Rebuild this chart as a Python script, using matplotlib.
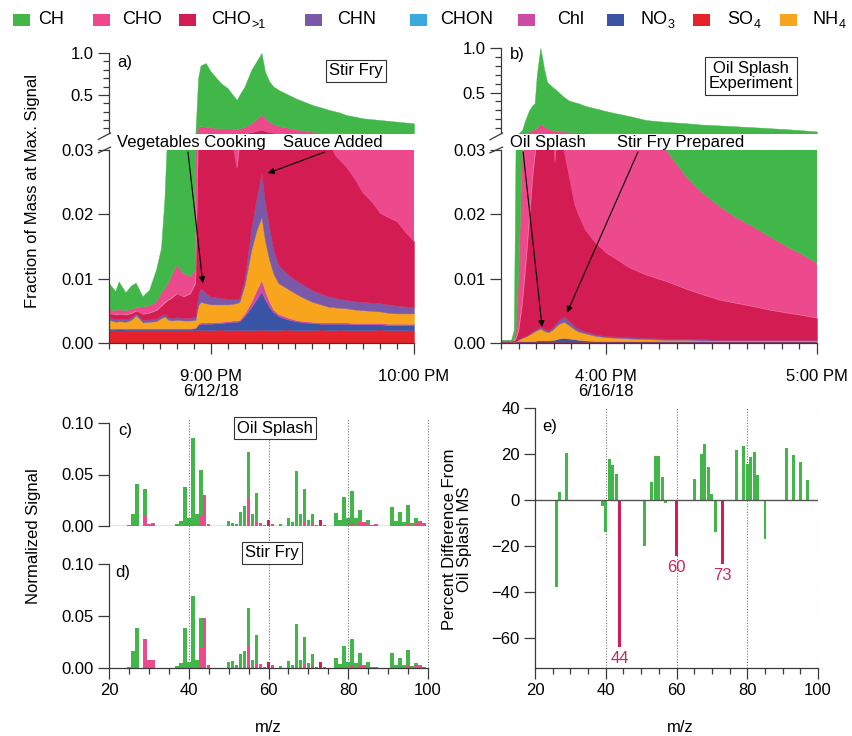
import numpy as np
import matplotlib
matplotlib.use("Agg")
import matplotlib.pyplot as plt
from matplotlib.patches import Rectangle
from matplotlib.ticker import MultipleLocator, FixedLocator, FormatStrFormatter

plt.rcParams['font.family'] = ['Liberation Sans', 'DejaVu Sans']
plt.rcParams['mathtext.fontset'] = 'custom'
plt.rcParams['mathtext.rm'] = 'Liberation Sans'
plt.rcParams['mathtext.default'] = 'regular'
plt.rcParams['font.size'] = 12

# colours of the chemical families
C_CH = '#41b649'
C_CHO = '#ec4a8c'
C_CHO1 = '#d21c52'
C_CHN = '#7a5aa8'
C_CHON = '#3aa9e0'
C_CHL = '#cf4aa6'
C_NO3 = '#3a55a6'
C_SO4 = '#e6232b'
C_NH4 = '#f8a51d'

# legend entries: (main text, subscript)
legend_labels = [('CH', ''), ('CHO', ''), ('CHO', '>1'), ('CHN', ''), ('CHON', ''), ('Chl', ''),
                 ('NO', '3'), ('SO', '4'), ('NH', '4')]
legend_colors = [C_CH, C_CHO, C_CHO1, C_CHN, C_CHON, C_CHL, C_NO3, C_SO4, C_NH4]

# ---- panel a: stir fry, minutes after 8:30 PM (6/12/18)
# upper edge of each stacked layer (fraction of mass at max signal)
a_t = [0, 2, 3, 5, 6.5, 8, 10, 12, 14, 15.5, 16.5, 17.5, 18.5, 20, 22, 24, 25.5, 26.3, 27, 28.5,
       30, 33, 35, 36.5, 37.7, 38.5, 40, 42, 43.5, 45, 46, 47.3, 48.5, 50, 52.5, 55, 57.5, 60, 62.5, 65,
       66, 67, 68, 70, 72.5, 75, 77.5, 80, 82.5, 85, 87.5, 90]
a_so4 = [.0020, .0020, .0019, .0020, .0020, .0020, .0020, .0020, .0020, .0020, .0020, .0020, .0020, .0020,
         .0020, .0020, .0020, .0020, .0021, .0020, .0020, .0021, .0020, .0020, .0021, .0020, .0020, .0020,
         .0020, .0021, .0020, .0020, .0020, .0020, .0021, .0020, .0020, .0020, .0021, .0020, .0020, .0020,
         .0021, .0020, .0020, .0020, .0020, .0021, .0020, .0020, .0020, .0020]
a_no3 = [.0022, .0022, .0022, .0022, .0022, .0022, .0022, .0022, .0022, .0022, .0022, .0022, .0022, .0022,
         .0022, .0022, .0023, .0028, .0030, .0030, .0030, .0031, .0032, .0033, .0033, .0034, .0042, .0056,
         .0068, .0080, .0068, .0056, .0048, .0042, .0037, .0034, .0032, .0031, .0030, .0030, .0030, .0030,
         .0030, .0030, .0029, .0029, .0029, .0029, .0028, .0028, .0028, .0028]
a_chl = [.0023, .0023, .0023, .0023, .0023, .0023, .0023, .0023, .0023, .0023, .0023, .0023, .0023, .0023,
         .0023, .0023, .0024, .0030, .0032, .0032, .0032, .0033, .0034, .0035, .0035, .0036, .0046, .0064,
         .0082, .0098, .0082, .0064, .0052, .0045, .0040, .0036, .0034, .0033, .0032, .0032, .0032, .0032,
         .0032, .0032, .0031, .0031, .0031, .0031, .0030, .0030, .0030, .0030]
a_nh4 = [.0036, .0033, .0034, .0033, .0036, .0043, .0032, .0033, .0034, .0039, .0041, .0036, .0035, .0036,
         .0035, .0035, .0036, .0058, .0064, .0062, .0060, .0060, .0060, .0061, .0062, .0064, .0090, .0145,
         .0175, .0196, .0160, .0129, .0108, .0093, .0085, .0077, .0070, .0064, .0060, .0056, .0056, .0055,
         .0055, .0054, .0052, .0051, .0050, .0049, .0047, .0046, .0046, .0046]
a_chn = [.0040, .0037, .0038, .0037, .0040, .0046, .0036, .0037, .0038, .0043, .0045, .0040, .0039, .0040,
         .0039, .0039, .0041, .0075, .0085, .0078, .0072, .0070, .0069, .0068, .0068, .0070, .0100, .0180,
         .0225, .0264, .0220, .0180, .0145, .0121, .0108, .0098, .0090, .0082, .0077, .0072, .0071, .0070,
         .0069, .0067, .0065, .0064, .0063, .0062, .0060, .0058, .0057, .0056]
a_cho1 = [.0046, .0044, .0045, .0044, .0046, .0050, .0045, .0047, .0051, .0058, .0063, .0067, .0070, .0077,
          .0072, .0077, .0093, .032, .034, .035, .035, .034, .033, .031, .0272, .031, .040, .055,
          .070, .085, .070, .055, .048, .042, .038, .036, .034, .033, .032, .031, .030, .029,
          .0285, .0274, .0255, .0233, .0220, .0202, .0195, .0189, .0172, .0158]
a_cho = [.0052, .0050, .0052, .0050, .0052, .0055, .0056, .0058, .0064, .0078, .0085, .0093, .0105, .0121,
         .0108, .0103, .0113, .12, .13, .12, .11, .10, .10, .095, .09, .10, .12, .16,
         .21, .27, .22, .18, .15, .13, .11, .09, .075, .06, .05, .045, .044, .043,
         .042, .040, .038, .036, .035, .034, .033, .032, .031, .031]
a_tot = [.0093, .0080, .0095, .0078, .0088, .0093, .0072, .0082, .0113, .0147, .0222, .035, .036, .037,
         .037, .037, .038, .70, .85, .88, .78, .64, .58, .50, .44, .50, .60, .80,
         .90, 1.00, .78, .66, .60, .56, .51, .46, .42, .38, .35, .32, .31, .30,
         .29, .26, .24, .22, .21, .20, .19, .18, .17, .16]

# ---- panel b: oil splash, minutes after 3:30 PM (6/16/18)
b_t = [0, 3, 3.8, 4.3, 5, 6, 7, 8, 9, 9.6, 10.2, 11.2, 11.7, 12.2, 13.1, 13.6, 15, 15.3, 15.7, 16.5,
       17.9, 19.3, 21, 22, 24, 27, 30, 33.5, 36.6, 41.4, 47, 52.7, 57, 62.3, 67, 71.8, 76, 81.4, 86, 90]
b_so4 = [.0002] * 40
b_no3 = [.0002, .0002, .0002, .00025, .0003, .0003, .0003, .0003, .0003, .0003, .0004, .0004, .0004, .0004,
         .0004, .0004, .0005, .0005, .0006, .0007, .0008, .0007, .0006, .0005, .0004, .0003, .0003, .0003,
         .0003, .0003, .0003, .0003, .0003, .0003, .0003, .0003, .0003, .0003, .0003, .0003]
b_nh4 = [.0002, .0002, .00025, .0003, .0005, .0008, .0010, .0013, .0016, .0018, .0020, .0022, .0021, .0019,
         .0017, .0017, .0022, .0024, .0026, .0030, .0033, .0028, .0021, .0018, .0015, .0011, .0009, .0008,
         .0007, .0006, .0005, .0005, .0004, .0004, .0004, .0004, .0004, .0004, .0004, .0004]
b_chn = [.0002, .0002, .0003, .0004, .0006, .0009, .0011, .0014, .0018, .0020, .0022, .0025, .0024, .0022,
         .0020, .0019, .0026, .0028, .0031, .0036, .0041, .0035, .0026, .0022, .0018, .0013, .0011, .0010,
         .0009, .0008, .0007, .0006, .0006, .0005, .0005, .0005, .0005, .0005, .0005, .0005]
b_cho1 = [.0003, .0003, .0004, .0008, .0020, .0060, .0120, .0190, .0260, .0290, .0320, .0340, .0340, .0340,
          .0340, .0340, .0320, .0280, .0310, .0320, .0300, .0262, .0215, .0200, .0176, .0155, .0140, .0128,
          .0117, .0106, .0096, .0084, .0076, .0067, .0062, .0057, .0052, .0047, .0043, .0039]
b_cho = [.0003, .0003, .0006, .0020, .0100, .0280, .0450, .0600, .0800, .0900, .1000, .1550, .1400, .1200,
         .1000, .0900, .0750, .0720, .0700, .0660, .0620, .0580, .0550, .0530, .0500, .0470, .0440, .0410,
         .0380, .0340, .0300, .0259, .0235, .0212, .0195, .0181, .0167, .0150, .0137, .0124]
b_tot = [.0004, .0004, .0020, .0310, .0400, .0800, .2000, .3000, .3600, .3800, .7000, 1.000, .9000, .7800,
         .6200, .6000, .5500, .5400, .5300, .5000, .4500, .4100, .3900, .3800, .3500, .3200, .2900, .2600,
         .2350, .1900, .1700, .1550, .1400, .1300, .1200, .1100, .1000, .0880, .0750, .0620]

# ---- panels c, d: normalized mass spectra
mz = [25, 26, 27, 29, 30, 31, 37, 38, 39, 40, 41, 42, 43, 44, 45, 50, 51, 52, 53, 54, 55, 56, 57, 58, 59,
      61, 63, 65, 66, 67, 68, 69, 70, 71, 72, 74, 77, 78, 79, 80, 81, 82, 83, 84, 85, 86, 87,
      91, 92, 93, 94, 95, 96, 97, 98, 99]
c_ch = [.001, .012, .041, .025, 0, 0, .002, .005, .038, .008, .085, .012, .044, 0, 0,
        .005, .003, .002, .014, .019, .045, .012, .028, 0, 0, 0, .002,
        .008, .004, .053, .012, .032, .006, .009, 0, 0,
        .013, .006, .028, .008, .031, .008, .012, 0, .003, 0, 0,
        .018, .005, .014, .004, .018, .003, .005, 0, 0]
c_cho = [0, 0, 0, .011, .002, .003, 0, 0, 0, 0, 0, 0, .010, .030, .002,
         0, 0, 0, 0, 0, .027, 0, .004, .003, .001, .002, 0,
         0, 0, 0, 0, .004, 0, .003, .001, .001,
         0, 0, 0, 0, .003, 0, .004, .004, .003, .001, .002,
         0, 0, 0, 0, .002, 0, .003, .005, .003]
d_ch = [.001, .016, .038, 0, 0, 0, .002, .005, .038, .006, .069, .008, .029, 0, 0,
        .006, .007, .003, .013, .016, .036, .008, .028, 0, 0, 0, .002,
        .007, .003, .042, .008, .026, .005, .010, 0, 0,
        .010, .004, .021, .006, .025, .005, .011, 0, .006, 0, 0,
        .014, .003, .010, .003, .015, .002, .003, 0, 0]
d_cho = [0, 0, 0, .028, .008, .008, 0, 0, 0, 0, 0, 0, .019, .048, .003,
         0, 0, 0, 0, 0, .022, 0, .004, .004, .001, .003, 0,
         0, 0, 0, 0, .004, 0, .003, .001, .001,
         0, 0, 0, 0, .003, 0, .003, .003, 0, .001, .001,
         0, 0, 0, 0, .002, 0, .002, .003, .001]
cho1_mz = [60, 73]
c_cho1 = [.006, .006]
d_cho1 = [.006, .006]

# ---- panel e: percent difference stir fry vs oil splash
e_mz = [26, 27, 29, 39, 40, 41, 42, 43, 51, 53, 54, 55, 56, 57, 65, 67, 68, 69, 70, 71,
        77, 79, 80, 81, 82, 83, 85, 91, 93, 95, 97]
e_diff = [-38, 3.5, 20.5, -2.5, -14, 17.8, 15.3, 11.4, -20, 7.7, 19, 19, 10.2, -1.2, 9.2, 20, 24.4, 14.2, 2.5, -14,
          21.9, 23.4, 15.6, 18.7, 21, 11, -16.8, 22.6, 19.7, 16.4, 8.8]
e_ox_mz = [44, 60, 73]
e_ox_diff = [-64, -24.5, -28]

W, H = 852, 736
fig = plt.figure(figsize=(W / 100, H / 100), dpi=100)


def px_axes(l, t, r, b):
    return fig.add_axes([l / W, 1 - b / H, (r - l) / W, (b - t) / H])


def ftext(x, y, s, **kw):
    return fig.text(x / W, 1 - y / H, s, **kw)


SPINE = '#3a3a3a'


def style(ax, bottom=True):
    for side in ['top', 'right']:
        ax.spines[side].set_visible(False)
    ax.spines['bottom'].set_visible(bottom)
    for side in ['left', 'bottom']:
        ax.spines[side].set_color(SPINE)
        ax.spines[side].set_linewidth(0.9)
    ax.tick_params(which='major', direction='out', length=8, width=0.9, color=SPINE, labelsize=12, pad=3)
    ax.tick_params(which='minor', direction='out', length=4.5, width=0.9, color=SPINE)
    if not bottom:
        ax.tick_params(axis='x', which='both', bottom=False, labelbottom=False)


def stack(ax, t, layers):
    prev = np.zeros(len(t))
    for edge, col in layers:
        edge = np.array(edge)
        ax.fill_between(t, prev, edge, facecolor=col, edgecolor=col, linewidth=0.3)
        prev = edge


a_layers = [(a_so4, C_SO4), (a_no3, C_NO3), (a_chl, C_CHL), (a_nh4, C_NH4), (a_chn, C_CHN),
            (a_cho1, C_CHO1), (a_cho, C_CHO), (a_tot, C_CH)]
b_layers = [(b_so4, C_SO4), (b_no3, C_NO3), (b_nh4, C_NH4), (b_chn, C_CHN),
            (b_cho1, C_CHO1), (b_cho, C_CHO), (b_tot, C_CH)]

panels = [
    (a_t, a_layers, (109, 53, 414, 133), (109, 150, 414, 343), ['9:00 PM\n6/12/18', '10:00 PM']),
    (b_t, b_layers, (501, 48, 817, 133), (501, 150, 817, 343), ['4:00 PM\n6/16/18', '5:00 PM']),
]
lower_axes = []
for t, layers, up_box, lo_box, xlabels in panels:
    axu = px_axes(*up_box)
    axl = px_axes(*lo_box)
    for ax in (axu, axl):
        stack(ax, t, layers)
        ax.set_xlim(0, 90)
    axu.set_ylim(0.045, 1.0)
    axl.set_ylim(0, 0.03)
    style(axu, bottom=False)
    style(axl)
    axu.yaxis.set_major_locator(FixedLocator([0.5, 1.0]))
    axu.yaxis.set_minor_locator(FixedLocator([0.1, 0.2, 0.3, 0.4, 0.6, 0.7, 0.8, 0.9]))
    axu.yaxis.set_major_formatter(FormatStrFormatter('%.1f'))
    axl.yaxis.set_major_locator(FixedLocator([0, 0.01, 0.02, 0.03]))
    axl.yaxis.set_major_formatter(FormatStrFormatter('%.2f'))
    axl.xaxis.set_major_locator(FixedLocator([30, 90]))
    axl.xaxis.set_minor_locator(MultipleLocator(5))
    axl.set_xticklabels(xlabels, linespacing=1.0)
    axl.tick_params(axis='x', which='major', pad=11)
    # axis break marks
    axu.plot([-0.035, 0.005], [-0.08, 0.0], transform=axu.transAxes, color=SPINE, lw=0.9, clip_on=False)
    axl.plot([-0.035, 0.005], [0.985, 1.015], transform=axl.transAxes, color=SPINE, lw=0.9, clip_on=False)
    lower_axes.append(axl)

ax_a, ax_b = lower_axes
arrow = dict(arrowstyle='-|>', color='black', lw=0.8, mutation_scale=9, shrinkA=0, shrinkB=0)
ax_a.text(24.3, 0.0311, 'Vegetables Cooking', ha='center', va='center', fontsize=12)
ax_a.text(66, 0.0311, 'Sauce Added', ha='center', va='center', fontsize=12)
ax_a.annotate('', xy=(27.7, 0.0093), xytext=(23.3, 0.0297), arrowprops=arrow, annotation_clip=False)
ax_a.annotate('', xy=(46.9, 0.0264), xytext=(63.7, 0.0297), arrowprops=arrow, annotation_clip=False)
ax_b.text(13.4, 0.0311, 'Oil Splash', ha='center', va='center', fontsize=12)
ax_b.text(51.3, 0.0311, 'Stir Fry Prepared', ha='center', va='center', fontsize=12)
ax_b.annotate('', xy=(11.7, 0.0025), xytext=(6.3, 0.0297), arrowprops=arrow, annotation_clip=False)
ax_b.annotate('', xy=(18.8, 0.0047), xytext=(39.0, 0.0297), arrowprops=arrow, annotation_clip=False)

# ---- spectra c and d
ax_c = px_axes(109, 423, 428, 526)
ax_d = px_axes(109, 564, 428, 668)
for ax, ch, cho, cho1 in [(ax_c, c_ch, c_cho, c_cho1), (ax_d, d_ch, d_cho, d_cho1)]:
    ax.bar(mz, cho, width=0.9, color=C_CHO, linewidth=0)
    ax.bar(mz, ch, bottom=cho, width=0.9, color=C_CH, linewidth=0)
    ax.bar(cho1_mz, cho1, width=0.9, color=C_CHO1, linewidth=0)
    ax.set_xlim(20, 100)
    ax.set_ylim(0, 0.1)
    ax.yaxis.set_major_locator(FixedLocator([0, 0.05, 0.10]))
    ax.yaxis.set_major_formatter(FormatStrFormatter('%.2f'))
style(ax_c, bottom=False)
style(ax_d)
ax_c.axhline(0, color='#8a6a74', lw=1.0)
ax_d.xaxis.set_major_locator(MultipleLocator(20))
ax_d.xaxis.set_minor_locator(MultipleLocator(5))
for x in [40, 60, 80, 100]:
    ax_d.axvline(x, 0, (668 - 418) / (668 - 564), color='#777777', ls=(0, (1, 1.5)), lw=0.8, clip_on=False, zorder=0)

# ---- panel e
ax_e = px_axes(535, 408, 818, 668)
ax_e.bar(e_mz, e_diff, width=0.8, color=C_CH, linewidth=0)
ax_e.bar(e_ox_mz, e_ox_diff, width=0.8, color=C_CHO1, linewidth=0)
for m, v in zip(e_ox_mz, e_ox_diff):
    ax_e.text(m, v - 1.5, str(m), color='#c8285a', ha='center', va='top', fontsize=12)
ax_e.axhline(0, color='#555555', lw=1.0)
for x in [40, 60, 80, 100]:
    ax_e.axvline(x, color='#777777', ls=(0, (1, 1.5)), lw=0.8, zorder=0)
ax_e.set_xlim(20, 100)
ax_e.set_ylim(-73, 40)
style(ax_e)
ax_e.yaxis.set_major_locator(FixedLocator([-60, -40, -20, 0, 20, 40]))
ax_e.xaxis.set_major_locator(MultipleLocator(20))
ax_e.xaxis.set_minor_locator(MultipleLocator(5))

# ---- labels
ftext(33, 191, 'Fraction of Mass at Max. Signal', rotation=90, ha='center', va='center', fontsize=12)
ftext(34, 536, 'Normalized Signal', rotation=90, ha='center', va='center', fontsize=12)
ftext(457, 539, 'Percent Difference From\nOil Splash MS', rotation=90, ha='center', va='center',
      fontsize=12, linespacing=1.05)
ftext(268, 728, 'm/z', ha='center', va='center', fontsize=12)
ftext(680, 728, 'm/z', ha='center', va='center', fontsize=12)
for x, y, s in [(125, 62, 'a)'), (517, 55, 'b)'), (125, 430, 'c)'), (123, 573, 'd)'), (550, 427, 'e)')]:
    ftext(x, y, s, ha='center', va='center', fontsize=12)
box = dict(boxstyle='square,pad=0.2', fc='white', ec='#333333', lw=0.8)
for x, y, s in [(356, 71, 'Stir Fry'), (751, 76, 'Oil Splash\nExperiment'),
                (275, 428, 'Oil Splash'), (272, 553, 'Stir Fry')]:
    ftext(x, y, s, ha='center', va='center', fontsize=12, bbox=box, linespacing=1.05)

# ---- legend row
sq_left = [13, 93, 179, 305, 410, 518, 607, 693, 780]
txt_left = [38, 122, 211, 337, 440, 557, 640, 727, 812]
fig.canvas.draw()
renderer = fig.canvas.get_renderer()
for xs, xt, (lab, sub), col in zip(sq_left, txt_left, legend_labels, legend_colors):
    fig.add_artist(Rectangle((xs / W, 1 - 26 / H), 17 / W, 12 / H, transform=fig.transFigure,
                             facecolor=col, edgecolor='none'))
    main = ftext(xt, 20, lab, ha='left', va='center', fontsize=13)
    if sub:
        wpx = main.get_window_extent(renderer).width
        ftext(xt + wpx + 0.5, 25, sub, ha='left', va='center', fontsize=9)

fig.savefig('out.png', dpi=100)
